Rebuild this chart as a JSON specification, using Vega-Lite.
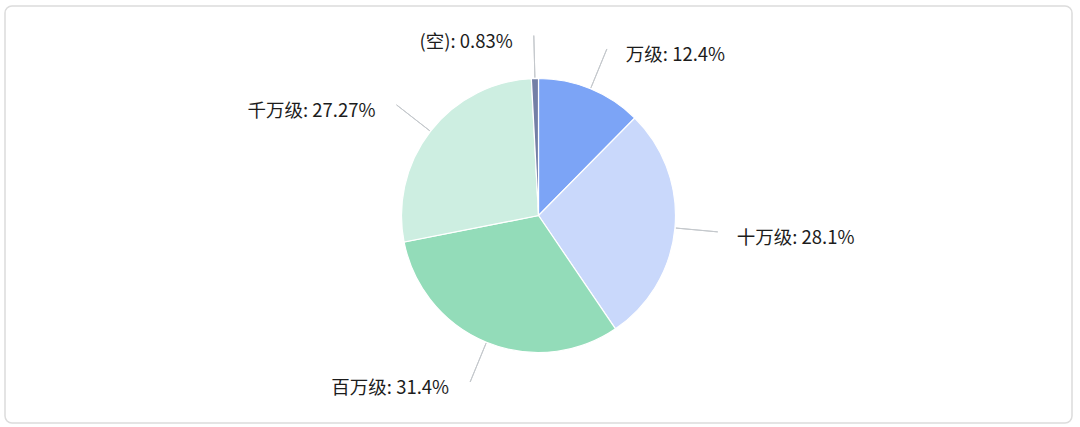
{
  "$schema": "https://vega.github.io/schema/vega-lite/v6.json",
  "description": "Pie chart of share by level",
  "width": 1080,
  "height": 427,
  "autosize": {"type": "fit", "contains": "padding"},
  "padding": {"left": 4, "top": 5, "right": 7, "bottom": 3},
  "background": "#ffffff",
  "config": {
    "view": {"stroke": null},
    "font": "Noto Sans CJK SC"
  },
  "layer": [
    {
      "data": {"values": [{"frame": 1}]},
      "mark": {"type": "rect", "fill": null, "stroke": "#dcdcdc", "strokeWidth": 1.5, "cornerRadius": 7, "yOffset": -2, "y2Offset": -2}
    },
    {
      "data": {
        "values": [
          {"idx": 1, "level": "万级", "pct": 12.4, "label": "万级: 12.4%"},
          {"idx": 2, "level": "十万级", "pct": 28.1, "label": "十万级: 28.1%"},
          {"idx": 3, "level": "百万级", "pct": 31.4, "label": "百万级: 31.4%"},
          {"idx": 4, "level": "千万级", "pct": 27.27, "label": "千万级: 27.27%"},
          {"idx": 5, "level": "(空)", "pct": 0.83, "label": "(空): 0.83%"}
        ]
      },
      "encoding": {
        "theta": {"field": "pct", "type": "quantitative", "stack": true},
        "order": {"field": "idx", "type": "quantitative"}
      },
      "layer": [
        {
          "mark": {"type": "arc", "outerRadius": 137, "stroke": "#ffffff", "strokeWidth": 1.2},
          "encoding": {
            "color": {
              "field": "level",
              "type": "nominal",
              "sort": null,
              "scale": {
                "domain": ["万级", "十万级", "百万级", "千万级", "(空)"],
                "range": ["#7ca4f6", "#c9d8fb", "#93dcb9", "#cdeee1", "#737fa6"]
              },
              "legend": null
            }
          }
        },
        {
          "mark": {
            "type": "arc",
            "innerRadius": 138,
            "outerRadius": 180,
            "padAngle": 3.1,
            "fill": null,
            "stroke": "#c4c8cc",
            "strokeWidth": 1
          }
        },
        {
          "mark": {"type": "text", "radius": 180, "align": "left", "baseline": "middle", "dx": 19, "dy": 6, "fontSize": 18.5, "color": "#1c1c1c"},
          "encoding": {
            "text": {"condition": {"test": "datum.idx <= 2", "field": "label"}, "value": ""}
          }
        },
        {
          "mark": {"type": "text", "radius": 180, "align": "right", "baseline": "middle", "dx": -21, "dy": 6, "fontSize": 18.5, "color": "#1c1c1c"},
          "encoding": {
            "text": {"condition": {"test": "datum.idx > 2", "field": "label"}, "value": ""}
          }
        }
      ]
    }
  ]
}
